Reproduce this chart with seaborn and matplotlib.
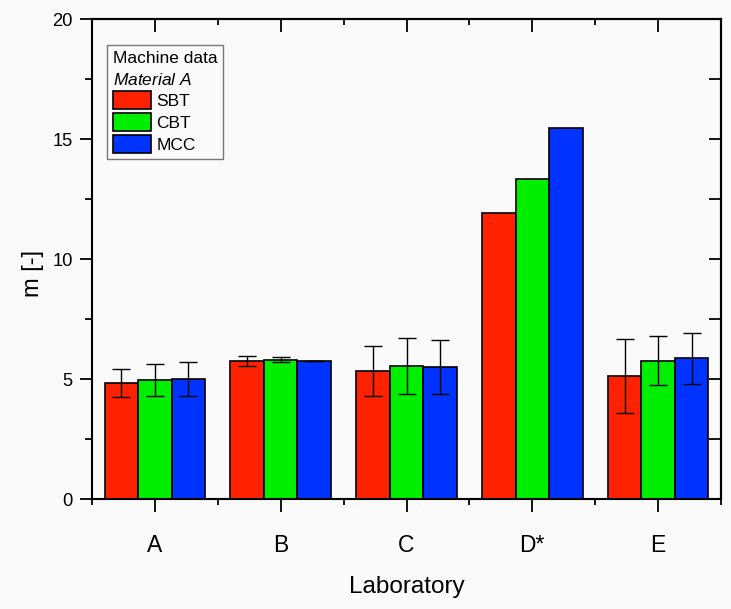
import numpy as np
import pandas as pd
import matplotlib
matplotlib.use("Agg")
import matplotlib.pyplot as plt
from matplotlib.patches import Patch
import seaborn as sns

# ---- data ----
laboratories = ["A", "B", "C", "D*", "E"]
series = ["SBT", "CBT", "MCC"]
sbt_values = [4.82, 5.75, 5.33, 11.93, 5.11]
cbt_values = [4.96, 5.80, 5.54, 13.35, 5.76]
mcc_values = [4.99, 5.75, 5.51, 15.47, 5.87]
sbt_errors = [0.58, 0.21, 1.04, np.nan, 1.54]
cbt_errors = [0.67, 0.11, 1.15, np.nan, 1.02]
mcc_errors = [0.71, 0.02, 1.13, np.nan, 1.06]
y_ticks = [0, 5, 10, 15, 20]

colors = {"SBT": "#FF2200", "CBT": "#00EE00", "MCC": "#0033FF"}
values = {"SBT": sbt_values, "CBT": cbt_values, "MCC": mcc_values}
errors = {"SBT": sbt_errors, "CBT": cbt_errors, "MCC": mcc_errors}

df = pd.DataFrame(
    [(lab, s, values[s][i]) for s in series for i, lab in enumerate(laboratories)],
    columns=["Laboratory", "Series", "m"],
)

sns.set_style("ticks")
plt.rcParams["font.family"] = ["Liberation Sans", "DejaVu Sans"]
plt.rcParams["mathtext.fontset"] = "custom"
plt.rcParams["mathtext.rm"] = "Liberation Sans"
plt.rcParams["mathtext.it"] = "Liberation Sans:italic"
for key in ["text.color", "axes.labelcolor", "xtick.color", "ytick.color",
            "xtick.labelcolor", "ytick.labelcolor", "axes.edgecolor"]:
    plt.rcParams[key] = "black"

bg = "#FAFAFA"
fig = plt.figure(figsize=(7.31, 6.09), dpi=100, facecolor=bg)
ax = fig.add_axes([92 / 731, 1 - 499 / 609, 629 / 731, 480 / 609])
ax.set_facecolor(bg)

sns.barplot(
    data=df, x="Laboratory", y="m", hue="Series", order=laboratories,
    hue_order=series, palette=colors, saturation=1, width=0.8,
    edgecolor="black", linewidth=1.2, legend=False, ax=ax, zorder=2,
)

for cont, s in zip(ax.containers, series):
    for bar, err in zip(cont, errors[s]):
        if np.isnan(err):
            continue
        ax.errorbar(bar.get_x() + bar.get_width() / 2, bar.get_height(), yerr=err,
                    fmt="none", ecolor="black", elinewidth=1.0, capsize=6.5,
                    capthick=1.0, zorder=3)

ax.set_xlim(-0.5, len(laboratories) - 0.5)
ax.set_ylim(0, 20)
ax.set_yticks(y_ticks)
ax.set_yticks(np.arange(0, 20.01, 2.5), minor=True)
ax.set_xticks(np.arange(-0.5, len(laboratories), 1.0), minor=True)

for sp in ax.spines.values():
    sp.set_visible(True)
    sp.set_linewidth(1.5)
    sp.set_color("black")

ax.tick_params(axis="y", which="major", direction="out", length=9, width=1.3,
               labelsize=13.2, pad=5, colors="black")
ax.tick_params(axis="y", which="minor", direction="out", length=5, width=1.3)
ax.tick_params(axis="x", which="major", direction="out", length=9, width=1.3,
               labelsize=16.5, pad=16, colors="black")
ax.tick_params(axis="x", which="minor", direction="out", length=4, width=1.3)

sec_y = ax.secondary_yaxis("right")
sec_y.set_yticks(np.arange(0, 20.01, 2.5))
sec_y.tick_params(direction="in", length=9, width=1.3, labelright=False)
sec_y.spines["right"].set_linewidth(1.5)

sec_x = ax.secondary_xaxis("top")
sec_x.set_xticks(range(len(laboratories)))
sec_x.set_xticks(np.arange(-0.5, len(laboratories), 1.0), minor=True)
sec_x.tick_params(which="major", direction="in", length=9, width=1.3, labeltop=False)
sec_x.tick_params(which="minor", direction="in", length=4, width=1.3)
sec_x.spines["top"].set_linewidth(1.5)

ax.set_xlabel("Laboratory", fontsize=17.5, labelpad=14, color="black")
ax.set_ylabel("m [-]", fontsize=17, color="black")
ax.yaxis.set_label_coords(-0.077, 0.469)

handles = [Patch(facecolor=colors[s], edgecolor="black", linewidth=1.2) for s in series]
leg = ax.legend(
    handles, series, title="Machine data\n$\\mathit{Material\\ A}$",
    loc="upper left", bbox_to_anchor=(15.3 / 629, 454 / 480), borderaxespad=0,
    fontsize=12.5, title_fontsize=12.5, alignment="left", frameon=True,
    fancybox=False, edgecolor="#777777", facecolor=bg, framealpha=1,
    handlelength=2.2, handleheight=1.245, handletextpad=0.3, labelspacing=0.2,
    borderpad=0.33,
)
leg.get_frame().set_linewidth(1.0)
for t in leg.get_texts():
    t.set_color("black")
leg.get_title().set_color("black")
leg.get_title().set_linespacing(1.45)

fig.savefig("out.png", dpi=100, facecolor=bg)
